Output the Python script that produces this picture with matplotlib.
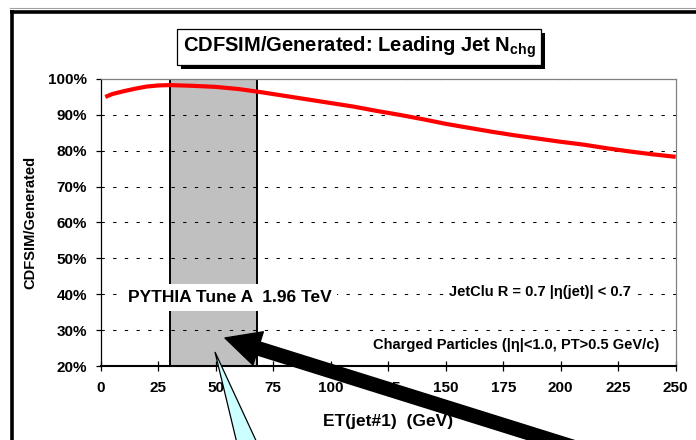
# CDFSIM/Generated: Leading Jet Nchg  (PYTHIA Tune A 1.96 TeV)
import matplotlib.pyplot as plt
from matplotlib.patches import Rectangle, Polygon, FancyArrowPatch, ArrowStyle
from matplotlib.lines import Line2D

plt.rcParams['font.family'] = ['Liberation Sans', 'DejaVu Sans']
plt.rcParams['font.weight'] = 'bold'
plt.rcParams['mathtext.fontset'] = 'custom'
plt.rcParams['mathtext.rm'] = 'Liberation Sans:bold'
plt.rcParams['mathtext.bf'] = 'Liberation Sans:bold'

# ── DATOS ─────────────────────────────────────────
et = [2, 5, 10, 15, 20, 25, 30, 40, 50, 60, 70, 80, 90, 100, 110, 120, 130,
      140, 150, 160, 170, 180, 190, 200, 210, 220, 230, 240, 250]
ratio = [95.0, 95.8, 96.6, 97.3, 97.9, 98.2, 98.3, 98.1, 97.8, 97.2, 96.3,
         95.3, 94.3, 93.3, 92.3, 91.1, 90.0, 88.8, 87.5, 86.4, 85.3, 84.3,
         83.4, 82.5, 81.7, 80.7, 79.8, 79.0, 78.3]
banda = [30, 68]
xticks = [0, 25, 50, 75, 100, 125, 150, 175, 200, 225, 250]
yticks = [20, 30, 40, 50, 60, 70, 80, 90, 100]
ylabels = [f"{v}%" for v in yticks]

W, H = 696, 440


def px(x, y):
    """pixeles (origen arriba-izquierda) -> fraccion de figura"""
    return (x / W, 1 - y / H)


fig = plt.figure(figsize=(W / 100, H / 100), dpi=100)
ax = fig.add_axes([100.7 / W, 1 - 366 / H, 575 / W, 287 / H])

# banda gris + curva
ax.axvspan(banda[0], banda[1], facecolor='#C0C0C0', edgecolor='black', lw=1.4, zorder=1)
ax.plot(et, ratio, color='#FF0000', lw=3, zorder=3, solid_capstyle='butt')

ax.set_xlim(0, 250)
ax.set_ylim(20, 100)
ax.set_xticks(xticks)
ax.set_yticks(yticks)
ax.set_yticklabels(ylabels)
ax.yaxis.grid(True, color='black', lw=0.75, linestyle=(0, (3.2, 8)))
ax.set_axisbelow('line')

ax.tick_params(axis='y', direction='out', length=3.4, width=0.9, pad=6.5, labelsize=11)
ax.tick_params(axis='x', direction='inout', length=7.2, width=0.9, pad=7.5, labelsize=11)
for t in ax.get_xticklabels() + ax.get_yticklabels():
    t.set_fontweight('bold')

ax.spines['bottom'].set_linewidth(1.5)
ax.spines['left'].set_linewidth(0.9)
for s in ['top', 'right']:
    ax.spines[s].set_color('#808080')
    ax.spines[s].set_linewidth(0.9)

ax.set_xlabel("ET(jet#1)  (GeV)", fontsize=12.5, fontweight='bold')
ax.xaxis.set_label_coords(0.5, -(421.7 - 366) / 287)
ax.xaxis.label.set_verticalalignment('center')
ax.set_ylabel("CDFSIM/Generated", fontsize=10.5, fontweight='bold')
ax.yaxis.set_label_coords(-(100.7 - 30) / 575, 0.5)
ax.yaxis.label.set_verticalalignment('center')

# textos dentro del grafico
caja = dict(boxstyle='square,pad=0.35', facecolor='white', edgecolor='none')
ax.text(56.0, 39.1, "PYTHIA Tune A  1.96 TeV", fontsize=12.5, fontweight='bold',
        ha='center', va='center', bbox=caja, zorder=4)
ax.text(191.0, 40.7, "JetClu R = 0.7 |η(jet)| < 0.7", fontsize=10.5, fontweight='bold',
        ha='center', va='center', bbox=caja, zorder=4)
ax.text(180.6, 25.9, "Charged Particles (|η|<1.0, PT>0.5 GeV/c)", fontsize=10.5,
        fontweight='bold', ha='center', va='center', zorder=4)

# ── TITULO CON SOMBRA ─────────────────────────────
x0, y0 = px(177, 65)
x1, y1 = px(541, 29)
fig.add_artist(Rectangle((x0 + 4 / W, y0 - 4 / H), x1 - x0, y1 - y0,
                         transform=fig.transFigure, facecolor='black', edgecolor='none', zorder=5))
fig.add_artist(Rectangle((x0, y0), x1 - x0, y1 - y0, transform=fig.transFigure,
                         facecolor='white', edgecolor='black', lw=0.9, zorder=6))
fig.text(*px(359, 47), r"CDFSIM/Generated: Leading Jet N$_{\mathbf{chg}}$",
         fontsize=14.5, fontweight='bold', ha='center', va='center', zorder=7)

# ── MARCO DE LA DIAPOSITIVA ───────────────────────
fig.add_artist(Line2D([10 / W, 1], [1 - 8.5 / H] * 2, transform=fig.transFigure,
                      color='#A0A0A0', lw=0.8, zorder=8))
fig.add_artist(Line2D([10 / W, 1], [1 - 11.8 / H] * 2, transform=fig.transFigure,
                      color='black', lw=2.6, zorder=8, solid_capstyle='butt'))
fig.add_artist(Line2D([12 / W] * 2, [1 - 10.2 / H, 0], transform=fig.transFigure,
                      color='black', lw=2.6, zorder=8, solid_capstyle='butt'))

# ── LLAMADA CIAN Y FLECHA ─────────────────────────
fig.add_artist(Polygon([px(215, 352), px(241, 460), px(265, 460)], closed=True,
                       transform=fig.transFigure, facecolor='#CCFFFF',
                       edgecolor='black', lw=0.9, zorder=9, clip_on=False))
fig.add_artist(FancyArrowPatch(px(610, 458.5), px(225, 338), transform=fig.transFigure,
                               arrowstyle=ArrowStyle.Simple(head_length=25, head_width=25,
                                                            tail_width=9.5),
                               mutation_scale=1, shrinkA=0, shrinkB=0,
                               color='black', zorder=10, clip_on=False))

fig.savefig("out.png", dpi=100)
